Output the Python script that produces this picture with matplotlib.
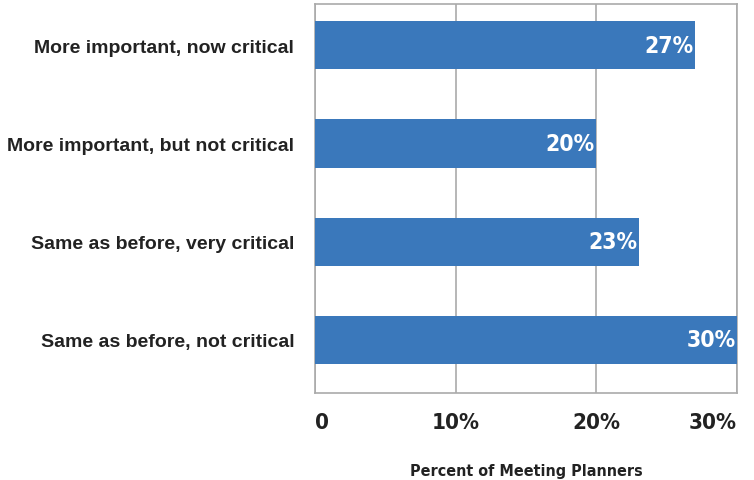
import matplotlib
matplotlib.use("Agg")
import matplotlib.pyplot as plt

categories = [
    "More important, now critical",
    "More important, but not critical",
    "Same as before, very critical",
    "Same as before, not critical",
]
values = [27, 20, 23, 30]
ticks = [0, 10, 20, 30]
tick_labels = ["0", "10%", "20%", "30%"]

BAR_COLOR = "#3a78bb"
TEXT_COLOR = "#222222"
GRID_COLOR = "#aaaaaa"
LABEL_FONT = ["Liberation Sans", "DejaVu Sans"]
NARROW = dict(family="DejaVu Sans", fontstretch="condensed", fontweight="bold")

fig = plt.figure(figsize=(7.54, 4.81), dpi=100)
ax = fig.add_axes([0.4178, 0.1809, 0.5597, 0.8087])

y = list(range(len(categories)))
ax.barh(y, values, height=0.49, color=BAR_COLOR, zorder=3)

for yi, v in zip(y, values):
    ax.text(v - 0.12, yi, f"{v}%", color="white", ha="right", va="center",
            fontsize=16.5, zorder=4, **NARROW)

ax.set_xlim(0, 30)
ax.set_ylim(len(categories) - 0.46, -0.42)
ax.set_xticks(ticks)
ax.set_xticklabels(tick_labels, fontsize=16, color=TEXT_COLOR, **NARROW)
labels = ax.get_xticklabels()
labels[0].set_ha("left")
labels[-1].set_ha("right")
ax.set_yticks(y)
ax.set_yticklabels(categories, fontsize=14, fontweight="bold",
                   family=LABEL_FONT, color=TEXT_COLOR)
ax.tick_params(axis="both", length=0)
ax.tick_params(axis="x", pad=14)
ax.tick_params(axis="y", pad=15)

ax.grid(axis="x", color=GRID_COLOR, linewidth=1.2, zorder=0)
for side in ax.spines.values():
    side.set_color(GRID_COLOR)
    side.set_linewidth(1.2)

ax.set_xlabel("Percent of Meeting Planners", fontsize=11.5, color=TEXT_COLOR,
              labelpad=22, **NARROW)

fig.savefig("out.png", dpi=100)
